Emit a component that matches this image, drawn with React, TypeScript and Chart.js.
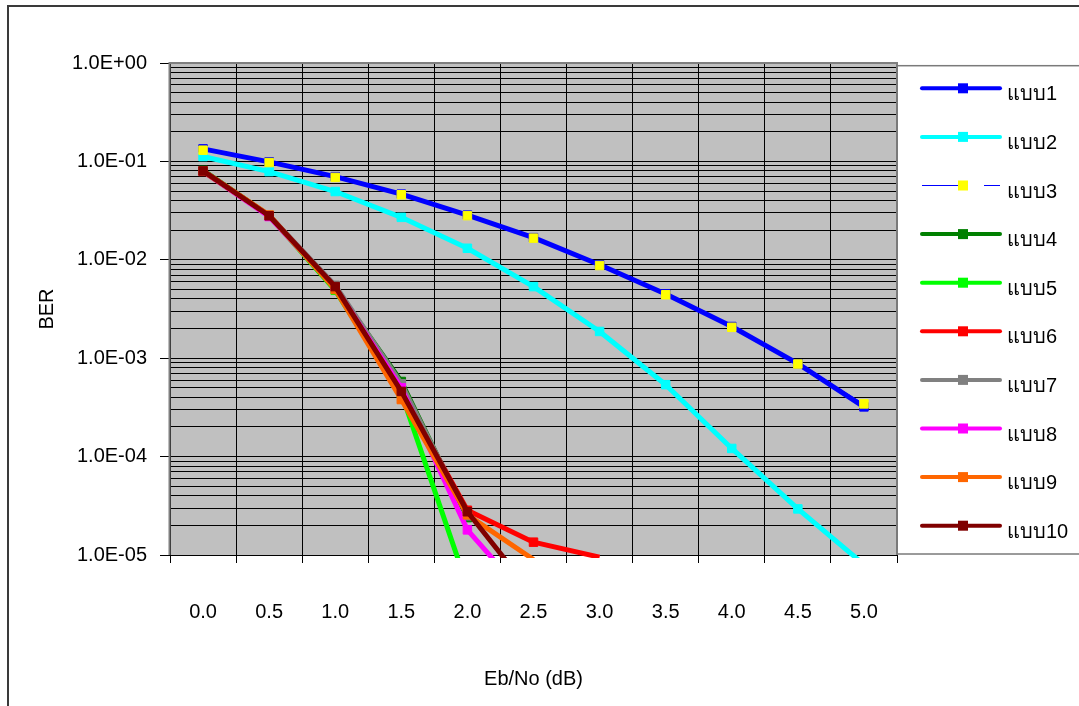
import React, { useEffect, useRef } from 'react';
import { Chart, registerables } from 'chart.js';

Chart.register(...registerables);

// ---------------- data ----------------
const categories = ['0.0', '0.5', '1.0', '1.5', '2.0', '2.5', '3.0', '3.5', '4.0', '4.5', '5.0'];

const seriesNames = ['แบบ1', 'แบบ2', 'แบบ3', 'แบบ4', 'แบบ5', 'แบบ6', 'แบบ7', 'แบบ8', 'แบบ9', 'แบบ10'];

const series1 = [0.134, 0.099, 0.07, 0.0465, 0.0285, 0.0168, 0.0089, 0.0045, 0.0021, 0.00088, 0.00032];
const series2 = [0.112, 0.0788, 0.0494, 0.027, 0.0131, 0.00534, 0.00187, 0.000538, 0.000121, 0.0000294, 0.000008];
const series3 = [0.13, 0.0974, 0.0688, 0.0458, 0.0281, 0.0166, 0.00875, 0.00441, 0.00206, 0.000873, 0.000343];
const series4 = [0.081, 0.028, 0.0052, 0.00058, 0.000024, null, null, null, null, null, null];
const series5 = [0.0805, 0.0281, 0.0049, 0.00044, 0.0000048, null, null, null, null, null, null];
const series6 = [0.079, 0.028, 0.0053, 0.00046, 0.0000285, 0.0000135, 0.0000095, null, null, null, null];
const series7 = [0.08, 0.0283, 0.0055, 0.00055, 0.000025, null, null, null, null, null, null];
const series8 = [0.08, 0.0275, 0.0052, 0.0005, 0.000018, 0.0000031, null, null, null, null, null];
const series9 = [0.08, 0.0285, 0.005, 0.00038, 0.0000256, 0.000009, null, null, null, null, null];
const series10 = [0.08, 0.028, 0.00534, 0.00046, 0.0000275, 0.0000039, null, null, null, null, null];

const seriesValues = [series1, series2, series3, series4, series5, series6, series7, series8, series9, series10];

const lineColors = ['#0000FF', '#00FFFF', '#0000FF', '#008000', '#00FF00', '#FF0000', '#808080', '#FF00FF', '#FF6600', '#800000'];
const markerColors = ['#0000FF', '#00FFFF', '#FFFF00', '#008000', '#00FF00', '#FF0000', '#808080', '#FF00FF', '#FF6600', '#800000'];

const decadeValues = [1e-5, 1e-4, 1e-3, 1e-2, 1e-1, 1];
const decadeLabels = ['1.0E-05', '1.0E-04', '1.0E-03', '1.0E-02', '1.0E-01', '1.0E+00'];
const minorMultipliers = [1, 2, 3, 4, 5, 6, 7, 8, 9];

const xTitle = 'Eb/No (dB)';
const yTitle = 'BER';

// ---------------- helpers ----------------
const FONT = "'Liberation Sans', Arial, 'DejaVu Sans', sans-serif";

const gridTickValues: number[] = [];
decadeValues.slice(0, -1).forEach((d) => minorMultipliers.forEach((m) => gridTickValues.push(m * d)));
gridTickValues.push(decadeValues[decadeValues.length - 1]);

function decadeIndex(v: number): number {
  const l = Math.log10(v);
  if (Math.abs(l - Math.round(l)) > 1e-6) return -1;
  return decadeValues.findIndex((d) => Math.abs(Math.log10(d) - l) < 1e-6);
}

const decorPlugin = {
  id: 'excelDecor',
  beforeDraw(chart: any) {
    const { ctx, chartArea: a } = chart;
    ctx.save();
    ctx.fillStyle = '#FFFFFF';
    ctx.fillRect(0, 0, chart.width, chart.height);
    ctx.fillStyle = '#C0C0C0';
    ctx.fillRect(a.left, a.top, a.right - a.left, a.bottom - a.top);
    ctx.restore();
  },
  afterDraw(chart: any) {
    const { ctx, chartArea: a } = chart;
    ctx.save();
    // outer chart border
    ctx.strokeStyle = '#3a3a3a';
    ctx.lineWidth = 2;
    ctx.strokeRect(8, 6, chart.width + 40, chart.height + 40);

    // plot area border (top, right, left)
    ctx.strokeStyle = '#7f7f7f';
    ctx.lineWidth = 2;
    ctx.beginPath();
    ctx.moveTo(a.left - 0.5, a.bottom);
    ctx.lineTo(a.left - 0.5, a.top);
    ctx.lineTo(a.right, a.top);
    ctx.lineTo(a.right, a.bottom);
    ctx.stroke();

    // legend box
    const bx = a.right;
    const by = a.top + 2.7;
    const bb = a.bottom - 1;
    ctx.strokeStyle = '#7a7a7a';
    ctx.lineWidth = 1.5;
    ctx.strokeRect(bx, by, chart.width, bb - by);

    chart.data.datasets.forEach((ds: any, i: number) => {
      const y = by + 22.6 + i * 48.6;
      const x0 = bx + 25;
      const x1 = bx + 103;
      const xm = (x0 + x1) / 2 + 2;
      ctx.save();
      ctx.strokeStyle = ds.borderColor;
      ctx.lineWidth = ds.borderWidth === 1 ? 1 : 4;
      ctx.lineCap = ds.borderDash && ds.borderDash.length ? 'butt' : 'round';
      ctx.setLineDash(ds.borderDash || []);
      ctx.beginPath();
      ctx.moveTo(x0, y);
      ctx.lineTo(x1, y);
      ctx.stroke();
      ctx.setLineDash([]);
      ctx.fillStyle = ds.pointBackgroundColor;
      ctx.fillRect(xm - 5, y - 5, 10, 10);
      ctx.fillStyle = '#000';
      ctx.font = `20px ${FONT}`;
      ctx.textBaseline = 'alphabetic';
      ctx.textAlign = 'left';
      ctx.fillText(ds.label, bx + 110, y + 12);
      ctx.restore();
    });
    ctx.restore();
  },
};

export default function App() {
  const ref = useRef<HTMLCanvasElement>(null);

  useEffect(() => {
    const canvas = ref.current;
    if (!canvas) return;
    const n = seriesValues.length;
    const yMin = decadeValues[0];
    const datasets = seriesValues.map((vals, i) => ({
      label: seriesNames[i],
      data: vals,
      borderColor: lineColors[i],
      backgroundColor: markerColors[i],
      borderWidth: i === 2 ? 1 : 5,
      borderDash: i === 2 ? [46, 16] : [],
      borderJoinStyle: 'round' as const,
      pointStyle: 'rect' as const,
      pointRadius: (ctx: any) => (ctx.raw != null && ctx.raw < yMin ? 0 : 6),
      pointBorderWidth: (ctx: any) => (ctx.raw != null && ctx.raw < yMin ? 0 : 1),
      pointBackgroundColor: markerColors[i],
      pointBorderColor: markerColors[i],
      spanGaps: false,
      fill: false,
      tension: 0,
      order: n - i,
      clip: { left: 10, top: 10, right: 10, bottom: 3 },
    }));

    const chart = new Chart(canvas, {
      type: 'line',
      data: { labels: categories, datasets },
      options: {
        responsive: false,
        animation: false,
        devicePixelRatio: 1,
        layout: { padding: { left: 0, top: 63, right: 182, bottom: 0 } },
        plugins: {
          legend: { display: false },
          tooltip: { enabled: false },
          title: { display: false },
        },
        scales: {
          x: {
            type: 'category',
            offset: true,
            grid: {
              offset: true,
              color: '#000',
              lineWidth: 1,
              tickColor: '#000',
              tickLength: 8,
              drawTicks: true,
            },
            border: { display: true, color: '#000', width: 1 },
            ticks: {
              color: '#000',
              font: { family: FONT, size: 20 },
              padding: 37,
              autoSkip: false,
              maxRotation: 0,
            },
            title: {
              display: true,
              text: xTitle,
              color: '#000',
              font: { family: FONT, size: 20 },
              padding: { top: 0, bottom: 15 },
            },
            afterFit: (scale: any) => {
              scale.height = 151;
            },
          },
          y: {
            type: 'logarithmic',
            min: decadeValues[0],
            max: decadeValues[decadeValues.length - 1],
            grid: {
              color: '#000',
              lineWidth: 1,
              tickLength: 10,
              tickColor: (ctx: any) => (ctx.tick && decadeIndex(ctx.tick.value) >= 0 ? '#000' : 'rgba(0,0,0,0)'),
            },
            border: { display: true, color: '#000', width: 1 },
            ticks: {
              color: '#000',
              font: { family: FONT, size: 20 },
              padding: 13,
              autoSkip: false,
              callback: (value: any) => {
                const idx = decadeIndex(Number(value));
                return idx >= 0 ? decadeLabels[idx] : '';
              },
            },
            afterBuildTicks: (scale: any) => {
              scale.ticks = gridTickValues.map((v) => ({ value: v, major: decadeIndex(v) >= 0 }));
            },
            title: {
              display: true,
              text: yTitle,
              color: '#000',
              font: { family: FONT, size: 20 },
              padding: { top: 35, bottom: 0 },
            },
            afterFit: (scale: any) => {
              scale.width = 170;
            },
          },
        },
      },
      plugins: [decorPlugin],
    } as any);

    return () => chart.destroy();
  }, []);

  return (
    <div
      style={{
        position: 'fixed',
        left: 0,
        top: 0,
        width: 1079,
        height: 706,
        overflow: 'hidden',
        background: '#fff',
      }}
    >
      <canvas ref={ref} width={1079} height={706} style={{ display: 'block', width: 1079, height: 706 }} />
    </div>
  );
}
